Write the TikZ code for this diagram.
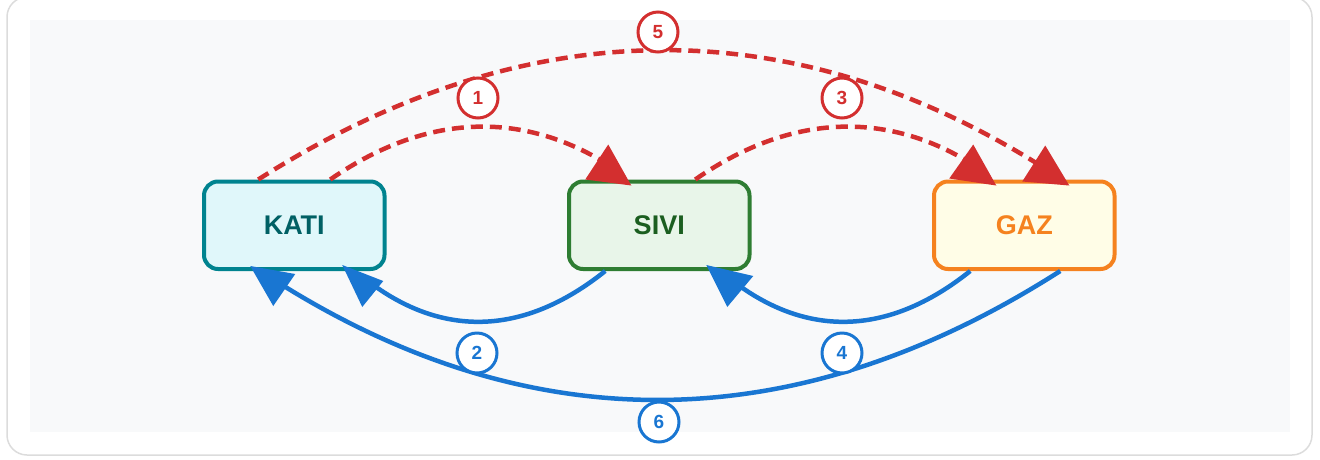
\documentclass[tikz,border=0pt]{standalone}
\usepackage{fontspec}
\setmainfont{Liberation Sans}
\usetikzlibrary{calc}

\definecolor{flowred}{HTML}{D32F2F}
\definecolor{flowblue}{HTML}{1976D2}
\definecolor{framegray}{HTML}{DCDCDC}
\definecolor{panelgray}{HTML}{F8F9FA}
\definecolor{katiedge}{HTML}{00838F}
\definecolor{katifill}{HTML}{E0F7FA}
\definecolor{katitext}{HTML}{006064}
\definecolor{siviedge}{HTML}{2E7D32}
\definecolor{sivifill}{HTML}{E8F5E9}
\definecolor{sivitext}{HTML}{1B5E20}
\definecolor{gazedge}{HTML}{F5821F}
\definecolor{gazfill}{HTML}{FFFDE7}
\definecolor{gaztext}{HTML}{F5821F}

\tikzset{
  phase/.style={rounded corners=14pt, line width=4pt, minimum width=180.5pt,
    minimum height=87.5pt, inner sep=0pt,
    font=\fontsize{27}{32}\selectfont\bfseries},
  numtag/.style={circle, fill=white, line width=3pt, minimum size=40pt,
    inner sep=0pt, font=\fontsize{19}{22}\selectfont\bfseries},
  redtag/.style={numtag, draw=flowred, text=flowred},
  bluetag/.style={numtag, draw=flowblue, text=flowblue},
  heatflow/.style={draw=flowred, line width=4.5pt, dash pattern=on 12pt off 7pt},
  coolflow/.style={draw=flowblue, line width=4.5pt},
}

\begin{document}
\begin{tikzpicture}[x=1pt, y=-1pt]
\useasboundingbox (0,0) rectangle (1320,459);

% card frame and inner panel
\draw[framegray, line width=1.5pt, rounded corners=20pt] (7,-3) rectangle (1312,455);
\fill[panelgray] (30,20) rectangle (1290,432);

% the three states of matter
\node[phase, draw=katiedge, fill=katifill, text=katitext] (kati) at (294.25,225.25) {KATI};
\node[phase, draw=siviedge, fill=sivifill, text=sivitext] (sivi) at (659.25,225.25) {SIVI};
\node[phase, draw=gazedge,  fill=gazfill,  text=gaztext]  (gaz)  at (1024.25,225.25) {GAZ};

% end points of the transitions
\coordinate (r1s) at ($(kati.north)+(36,0)$);
\coordinate (r1e) at ($(sivi.north)+(-29,0)$);
\coordinate (r3s) at ($(sivi.north)+(36,0)$);
\coordinate (r3e) at ($(gaz.north)+(-29,0)$);
\coordinate (r5s) at ($(kati.north)+(-36,0)$);
\coordinate (r5e) at ($(gaz.north)+(38,0)$);
\coordinate (b2s) at ($(sivi.south)+(-54,0)$);
\coordinate (b2e) at ($(kati.south)+(61,0)$);
\coordinate (b4s) at ($(gaz.south)+(-54,0)$);
\coordinate (b4e) at ($(sivi.south)+(61,0)$);
\coordinate (b6s) at ($(gaz.south)+(36,0)$);
\coordinate (b6e) at ($(kati.south)+(-34,0)$);

% heating transitions (dashed)
\draw[heatflow, shorten >=12pt] (r1s) .. controls +(100,-69.33) and +(-100,-69.33) .. (r1e);
\draw[heatflow, shorten >=12pt] (r3s) .. controls +(100,-69.33) and +(-100,-69.33) .. (r3e);
\draw[heatflow, shorten >=20pt] (r5s) .. controls +(268,-170.67) and +(-268,-170.67) .. (r5e);

% cooling transitions (solid)
\draw[coolflow, shorten >=10pt] (b2s) .. controls +(-83.33,66.67) and +(83.33,66.67) .. (b2e);
\draw[coolflow, shorten >=10pt] (b4s) .. controls +(-83.33,66.67) and +(83.33,66.67) .. (b4e);
\draw[coolflow, shorten >=14pt] (b6s) .. controls +(-266.67,170.67) and +(266.67,170.67) .. (b6e);

% arrowheads
\fill[flowred, shift={(r1e)}] (-22,-35) -- (-45,0) -- (1,6) -- cycle;
\fill[flowred, shift={(r3e)}] (-22,-35) -- (-46,-1) -- (1,6) -- cycle;
\fill[flowred, shift={(r5e)}] (-17,-34) -- (-40,2) -- (7,6) -- cycle;
\fill[flowblue, shift={(b2e)}] (-13,-6) -- (28,10) -- (7,36) -- cycle;
\fill[flowblue, shift={(b4e)}] (-14,-6) -- (33,5) -- (7,36) -- cycle;
\fill[flowblue, shift={(b6e)}] (-10,-5) -- (35,3) -- (13,35) -- cycle;

% step numbers
\node[redtag]  (n1) at (478,98)  {1};
\node[redtag]  (n3) at (842,98)  {3};
\node[redtag]  (n5) at (658,32)  {5};
\node[bluetag] (n2) at (477,353) {2};
\node[bluetag] (n4) at (842,353) {4};
\node[bluetag] (n6) at (659,422) {6};
\end{tikzpicture}
\end{document}
